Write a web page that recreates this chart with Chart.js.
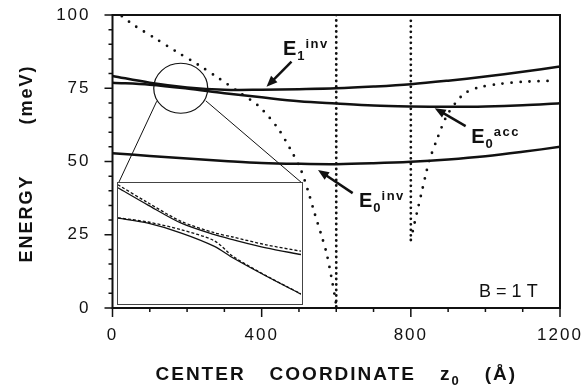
<!DOCTYPE html>
<html>
<head>
<meta charset="utf-8">
<script src="https://cdn.jsdelivr.net/npm/chart.js@4.4.0/dist/chart.umd.min.js"></script>
<style>
  body { margin: 0; background: #fff; }
  #wrap { position: relative; width: 584px; height: 385px; }
  #inset { position: absolute; left: 117px; top: 182px; width: 186px; height: 123px;
           border: 1.5px solid #444; box-sizing: border-box; background: #fff; }
</style>
</head>
<body>
<div id="wrap">
  <canvas id="main" width="584" height="385"></canvas>
  <div id="inset"><canvas id="zoom" width="183" height="120"></canvas></div>
</div>
<script>
// center coordinate z0 (Å) for the three levels
const zGrid = [0, 100, 200, 300, 400, 500, 600, 700, 800, 900, 1000, 1100, 1200];
const e1Inv = [79.2, 76.9, 75.3, 74.5, 74.5, 74.7, 75.0, 75.6, 76.4, 77.6, 79.0, 80.6, 82.4];
const e0Acc = [76.9, 76.2, 74.9, 73.3, 71.9, 70.6, 69.8, 69.1, 68.8, 68.7, 68.8, 69.2, 69.9];
const e0Inv = [52.8, 51.9, 51.0, 50.2, 49.5, 49.2, 49.1, 49.4, 49.9, 50.7, 51.8, 53.3, 55.0];

// dotted curve, left branch
const dotLeftZ = [25, 60, 115, 170, 230, 285, 340, 392, 442, 477, 505, 525, 542, 560, 574, 587, 596, 601];
const dotLeftE = [99.6, 96.3, 92.0, 87.6, 83.0, 78.4, 73.6, 68.9, 61.6, 54.2, 47.2, 39.7, 32.3, 24.9, 18.7, 10.5, 4.1, 0];
// dotted curve, right branch
const dotRightZ = [800, 810, 820, 830, 840, 850, 870, 895, 920, 945, 980, 1040, 1100, 1190];
const dotRightE = [23.2, 29.0, 34.5, 40.0, 45.5, 50.5, 57.5, 65.3, 70.0, 73.3, 75.2, 76.5, 77.2, 77.6];
// vertical dotted walls
const wallZ = [600, 800];
const wallTop = [100, 98];
const wallBottom = [0, 23.2];

// inset (magnified region), arbitrary units 0..100
const insetX = [0, 16.4, 34.6, 52.7, 62.7, 80.9, 100];
const insetUpper = [96.0, 81.6, 66.5, 56.9, 52.8, 45.9, 40.4];
const insetUpperDash = [98.5, 83.5, 68.0, 58.5, 55.0, 48.5, 43.2];
const insetLower = [70.7, 66.5, 58.3, 47.2, 37.7, 22.5, 7.4];
const insetLowerDash = [71.0, 67.5, 61.0, 51.8, 39.0, 22.8, 7.6];

const FONT = '"Liberation Sans", Arial, Helvetica, sans-serif';
const INK = '#111';

function pts(xs, ys) {
  return xs.map((v, i) => ({ x: v, y: ys[i] }));
}

function solid(xs, ys) {
  return { data: pts(xs, ys), borderColor: INK, borderWidth: 2.5, pointRadius: 0, tension: 0.35, fill: false };
}

function dotted(xs, ys, gap, tension) {
  return { data: pts(xs, ys), borderColor: INK, borderWidth: 2.8, borderDash: [0, gap],
           borderCapStyle: 'round', pointRadius: 0, tension: tension, fill: false };
}

let datasets = [
  solid(zGrid, e1Inv),
  solid(zGrid, e0Acc),
  solid(zGrid, e0Inv),
  dotted(dotLeftZ, dotLeftE, 9, 0.3),
  dotted(dotRightZ, dotRightE, 9, 0.3)
];
wallZ.forEach((z, i) => {
  datasets.push(dotted([z, z], [wallTop[i], wallBottom[i]], 5.5, 0));
});

function arrow(ctx, x1, y1, x2, y2) {
  const ang = Math.atan2(y2 - y1, x2 - x1);
  ctx.lineWidth = 2.5;
  ctx.beginPath();
  ctx.moveTo(x1, y1);
  ctx.lineTo(x2 - 6 * Math.cos(ang), y2 - 6 * Math.sin(ang));
  ctx.stroke();
  ctx.beginPath();
  ctx.moveTo(x2, y2);
  ctx.lineTo(x2 - 11 * Math.cos(ang) + 4.5 * Math.sin(ang), y2 - 11 * Math.sin(ang) - 4.5 * Math.cos(ang));
  ctx.lineTo(x2 - 11 * Math.cos(ang) - 4.5 * Math.sin(ang), y2 - 11 * Math.sin(ang) + 4.5 * Math.cos(ang));
  ctx.closePath();
  ctx.fill();
}

// E with subscript and superscript
function level(ctx, x, y, sub, sup) {
  ctx.textAlign = 'left';
  ctx.textBaseline = 'alphabetic';
  ctx.letterSpacing = '0px';
  ctx.font = 'bold 20px ' + FONT;
  ctx.fillText('E', x, y);
  const w = ctx.measureText('E').width;
  ctx.font = 'bold 13px ' + FONT;
  ctx.fillText(sub, x + w + 1, y + 5);
  const ws = ctx.measureText(sub).width;
  ctx.letterSpacing = '1.5px';
  ctx.fillText(sup, x + w + ws + 2, y - 7);
  ctx.letterSpacing = '0px';
}

const deco = {
  id: 'deco',
  beforeDraw(chart) {
    chart.ctx.letterSpacing = '2px';
  },
  afterDraw(chart) {
    const { ctx, chartArea: a, scales: { x, y } } = chart;
    ctx.save();
    ctx.letterSpacing = '0px';
    ctx.strokeStyle = INK;
    ctx.fillStyle = INK;

    // frame
    ctx.lineWidth = 2;
    ctx.strokeRect(a.left, a.top, a.right - a.left, a.bottom - a.top);

    // ticks
    ctx.lineWidth = 1.5;
    ctx.beginPath();
    for (let v = 0; v <= 1200; v += 100) {
      const px = x.getPixelForValue(v);
      ctx.moveTo(px, a.bottom);
      ctx.lineTo(px, a.bottom + (v % 400 === 0 ? 9 : 4));
    }
    for (let v = 0; v <= 100; v += 5) {
      const py = y.getPixelForValue(v);
      ctx.moveTo(a.left, py);
      ctx.lineTo(a.left - (v % 25 === 0 ? 8 : 4), py);
    }
    ctx.stroke();

    // magnifier circle and connectors
    const cx = x.getPixelForValue(183), cy = y.getPixelForValue(75);
    ctx.lineWidth = 1.2;
    ctx.beginPath();
    ctx.ellipse(cx, cy, 27, 25, 0, 0, Math.PI * 2);
    ctx.stroke();
    ctx.lineWidth = 1;
    ctx.beginPath();
    ctx.moveTo(cx - 24, cy + 13);
    ctx.lineTo(118.5, 183);
    ctx.moveTo(cx + 25, cy + 12.5);
    ctx.lineTo(302, 183);
    ctx.stroke();

    // level labels and arrows
    level(ctx, x.getPixelForValue(457), y.getPixelForValue(86.3), '1', 'inv');
    arrow(ctx, x.getPixelForValue(480), y.getPixelForValue(84.1), x.getPixelForValue(413), y.getPixelForValue(75.5));
    level(ctx, x.getPixelForValue(962), y.getPixelForValue(56.2), '0', 'acc');
    arrow(ctx, x.getPixelForValue(947), y.getPixelForValue(62.1), x.getPixelForValue(864), y.getPixelForValue(68.2));
    level(ctx, x.getPixelForValue(661), y.getPixelForValue(34.4), '0', 'inv');
    arrow(ctx, x.getPixelForValue(644), y.getPixelForValue(39.2), x.getPixelForValue(551), y.getPixelForValue(47.1));

    // B = 1 T
    ctx.font = '18px ' + FONT;
    ctx.textAlign = 'right';
    ctx.fillText('B = 1 T', x.getPixelForValue(1140), y.getPixelForValue(3.9));

    // x title
    ctx.font = 'bold 19px ' + FONT;
    ctx.letterSpacing = '2px';
    ctx.textAlign = 'left';
    const gap = 24;
    const parts = ['CENTER', 'COORDINATE', 'z', '(Å)'];
    const widths = parts.map(p => ctx.measureText(p).width);
    ctx.font = 'bold 13px ' + FONT;
    const subW = ctx.measureText('0').width;
    const total = widths.reduce((s, w) => s + w, 0) + subW + gap * 3;
    let tx = (a.left + a.right) / 2 - total / 2;
    const ty = 380;
    ctx.font = 'bold 19px ' + FONT;
    ctx.fillText('CENTER', tx, ty); tx += widths[0] + gap;
    ctx.fillText('COORDINATE', tx, ty); tx += widths[1] + gap;
    ctx.fillText('z', tx, ty); tx += widths[2];
    ctx.font = 'bold 13px ' + FONT;
    ctx.fillText('0', tx, ty + 5); tx += subW + gap;
    ctx.font = 'bold 19px ' + FONT;
    ctx.fillText('(Å)', tx, ty);

    // y title
    ctx.font = 'bold 18px ' + FONT;
    ctx.save();
    ctx.translate(31.5, (a.top + a.bottom) / 2 + 2);
    ctx.rotate(-Math.PI / 2);
    const w1 = ctx.measureText('ENERGY').width, w2 = ctx.measureText('(meV)').width;
    const yg = 50;
    const start = -(w1 + yg + w2) / 2;
    ctx.fillText('ENERGY', start, 0);
    ctx.fillText('(meV)', start + w1 + yg, 0);
    ctx.restore();

    ctx.restore();
  }
};

new Chart(document.getElementById('main'), {
  type: 'line',
  data: { datasets: datasets },
  options: {
    responsive: false,
    animation: false,
    layout: { padding: { top: 15, right: 24, left: 0, bottom: 0 } },
    plugins: { legend: { display: false }, tooltip: { enabled: false } },
    scales: {
      x: {
        type: 'linear', min: 0, max: 1200,
        afterFit: s => { s.height = 77; s.paddingLeft = 0; s.paddingRight = 0; },
        ticks: { stepSize: 400, padding: 17, color: INK, font: { size: 17, family: FONT },
                 callback: v => String(v) },
        grid: { display: false, drawTicks: false },
        border: { display: false }
      },
      y: {
        min: 0, max: 100,
        afterFit: s => { s.width = 112.5; s.paddingTop = 0; s.paddingBottom = 0; },
        ticks: { stepSize: 25, padding: 22, color: INK, font: { size: 17, family: FONT },
                 callback: v => String(v) },
        grid: { display: false, drawTicks: false },
        border: { display: false }
      }
    }
  },
  plugins: [deco]
});

function insetLine(ys, dashed) {
  return { data: pts(insetX, ys), borderColor: INK, borderWidth: 1.3, pointRadius: 0, tension: 0.3,
           borderDash: dashed ? [3, 2] : [], fill: false };
}

new Chart(document.getElementById('zoom'), {
  type: 'line',
  data: {
    datasets: [
      insetLine(insetUpper, false),
      insetLine(insetUpperDash, true),
      insetLine(insetLower, false),
      insetLine(insetLowerDash, true)
    ]
  },
  options: {
    responsive: false,
    animation: false,
    layout: { padding: 0 },
    plugins: { legend: { display: false }, tooltip: { enabled: false } },
    scales: {
      x: { type: 'linear', min: 0, max: 100, display: false },
      y: { min: 0, max: 100, display: false }
    }
  }
});
</script>
</body>
</html>
